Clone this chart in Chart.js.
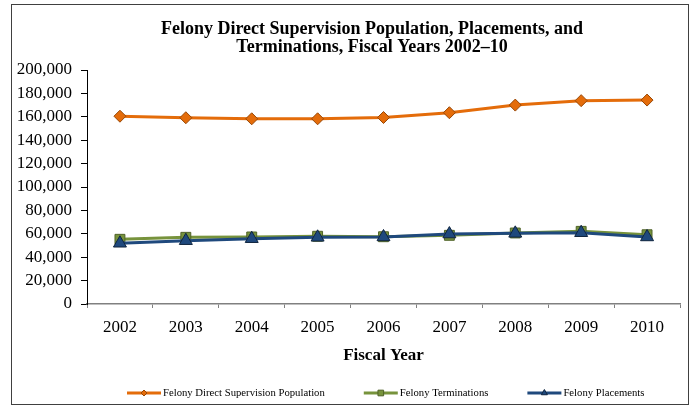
<!DOCTYPE html>
<html>
<head>
<meta charset="utf-8">
<script src="https://cdn.jsdelivr.net/npm/chart.js@4/dist/chart.umd.min.js"></script>
<style>
  html, body { margin: 0; padding: 0; background: #fff; }
  #wrap { position: relative; width: 697px; height: 408px; }
  #frame { position: absolute; left: 11px; top: 4px; width: 678px; height: 401px; border: 1px solid #404040; box-sizing: border-box; pointer-events: none; }
  canvas { position: absolute; left: 0; top: 0; }
</style>
</head>
<body>
<div id="wrap">
  <canvas id="c" width="697" height="408"></canvas>
  <div id="frame"></div>
</div>
<script>
const titleLines = ["Felony Direct Supervision Population, Placements, and", "Terminations, Fiscal Years 2002\u201310"];
const axisTitle = "Fiscal Year";
const years = ["2002","2003","2004","2005","2006","2007","2008","2009","2010"];
const population = [160500, 159200, 158300, 158300, 159400, 163500, 170000, 173800, 174300];
const terminations = [55300, 57000, 57300, 57900, 57500, 58700, 60700, 62100, 59200];
const placements = [51900, 54100, 55800, 57000, 57300, 59800, 60400, 60900, 57300];
const seriesNames = ["Felony Direct Supervision Population", "Felony Terminations", "Felony Placements"];
const yMin = 0, yMax = 200000, yStep = 20000;

const FONT = "'Liberation Serif', 'Times New Roman', serif";

const styles = [
  { color: '#E46C0A', border: '#984807', style: 'rectRot', r: 6, lr: 3 },
  { color: '#77933C', border: '#4F6228', style: 'rect', r: 7, lr: 4 },
  { color: '#1F497D', border: '#10253F', style: 'triangle', r: 7.5, lr: 3.5 }
];

function drawMarker(ctx, style, r, x, y) {
  if (style === 'rectRot') {
    ctx.moveTo(x, y - r); ctx.lineTo(x + r, y); ctx.lineTo(x, y + r); ctx.lineTo(x - r, y); ctx.closePath();
  } else if (style === 'rect') {
    const h = r * Math.SQRT1_2;
    ctx.rect(x - h, y - h, 2 * h, 2 * h);
  } else {
    ctx.moveTo(x, y - r); ctx.lineTo(x + r * 0.866, y + r * 0.5); ctx.lineTo(x - r * 0.866, y + r * 0.5); ctx.closePath();
  }
}

const overlay = {
  id: 'overlay',
  afterDraw(chart) {
    const ctx = chart.ctx;
    ctx.save();
    ctx.fillStyle = '#000';
    ctx.textAlign = 'center';
    ctx.textBaseline = 'middle';
    ctx.font = 'bold 18px ' + FONT;
    ctx.fillText(titleLines[0], 372, 29);
    ctx.fillText(titleLines[1], 372, 47);
    const ly = 393;
    ctx.font = '10.7px ' + FONT;
    ctx.textAlign = 'left';
    const gap = 39, lineLen = 34;
    let x = 127;
    seriesNames.forEach((name, i) => {
      const s = styles[i];
      const x1 = x, x2 = x + lineLen, tx = x2 + 2;
      ctx.strokeStyle = s.color;
      ctx.lineWidth = 3;
      ctx.beginPath();
      ctx.moveTo(x1, ly);
      ctx.lineTo(x2, ly);
      ctx.stroke();
      ctx.fillStyle = s.color;
      ctx.strokeStyle = s.border;
      ctx.lineWidth = 1;
      ctx.beginPath();
      drawMarker(ctx, s.style, s.lr, (x1 + x2) / 2, ly);
      ctx.fill();
      ctx.stroke();
      ctx.fillStyle = '#000';
      ctx.fillText(name, tx, ly);
      x = tx + ctx.measureText(name).width + gap;
    });
    ctx.restore();
  }
};

const seriesData = [population, terminations, placements];
const datasets = seriesData.map((d, i) => ({
  label: seriesNames[i],
  data: d,
  borderColor: styles[i].color,
  backgroundColor: styles[i].color,
  pointBackgroundColor: styles[i].color,
  pointBorderColor: styles[i].border,
  pointBorderWidth: 1,
  pointStyle: styles[i].style,
  pointRadius: styles[i].r,
  pointHoverRadius: styles[i].r,
  borderWidth: 3,
  tension: 0,
  order: 2 - i
}));

new Chart(document.getElementById('c'), {
  type: 'line',
  data: { labels: years, datasets },
  plugins: [overlay],
  options: {
    responsive: false,
    animation: false,
    devicePixelRatio: 1,
    layout: { padding: { left: 0, top: 70, right: 17, bottom: 0 } },
    plugins: { legend: { display: false }, title: { display: false }, tooltip: { enabled: false } },
    scales: {
      x: {
        type: 'category',
        offset: true,
        grid: { offset: true, drawOnChartArea: false, drawTicks: true, tickLength: 4, tickColor: '#808080', tickWidth: 1 },
        border: { display: true, color: '#808080', width: 1.5 },
        ticks: { color: '#000', font: { family: FONT, size: 17 }, padding: 9, maxRotation: 0, autoSkip: false },
        title: { display: true, text: axisTitle, color: '#000', font: { family: FONT, size: 17, weight: 'bold' }, padding: { top: 0, bottom: 42 } },
        afterFit(scale) { scale.height = 104; }
      },
      y: {
        min: yMin, max: yMax,
        grid: { drawOnChartArea: false, drawTicks: true, tickLength: 6, tickColor: '#000', tickWidth: 1 },
        border: { display: true, color: '#000', width: 1 },
        ticks: { stepSize: yStep, color: '#000', font: { family: FONT, size: 17 }, padding: 9,
          callback: v => v.toLocaleString('en-US') },
        afterFit(scale) { scale.width = 87; }
      }
    }
  }
});
</script>
</body>
</html>
